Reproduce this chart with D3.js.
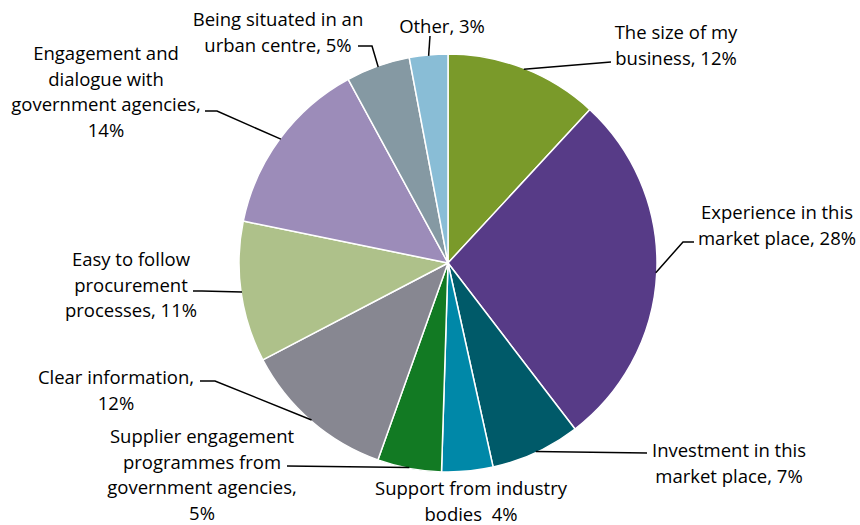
<!DOCTYPE html>
<html>
<head>
<meta charset="utf-8">
<script src="https://cdn.jsdelivr.net/npm/d3@7"></script>
<style>
  html, body { margin: 0; padding: 0; background: #fff; }
  svg { display: block; }
  text { font-family: "Open Sans", Lato, sans-serif; font-size: 18.5px; fill: #000; white-space: pre; }
</style>
</head>
<body>
<svg id="chart" width="860" height="525"></svg>
<script>
// Share of responses by factor, clockwise from 12 o'clock
const categories = [
  "The size of my business",
  "Experience in this market place",
  "Investment in this market place",
  "Support from industry bodies",
  "Supplier engagement programmes from government agencies",
  "Clear information",
  "Easy to follow procurement processes",
  "Engagement and dialogue with government agencies",
  "Being situated in an urban centre",
  "Other"
];
const values = [12, 28, 7, 4, 5, 12, 11, 14, 5, 3];
const colors = [
  "#7a9a2a", "#573b87", "#005a69", "#0088a8", "#127a23",
  "#878791", "#aec18a", "#9c8cb9", "#8599a3", "#89bdd6"
];
// Wrapped label text; {v} is replaced by the slice value
const labelLines = [
  ["The size of my", "business, {v}%"],
  ["Experience in this", "market place, {v}%"],
  ["Investment in this", "market place, {v}%"],
  ["Support from industry", "bodies  {v}%"],
  ["Supplier engagement", "programmes from", "government agencies,", "{v}%"],
  ["Clear information,", "{v}%"],
  ["Easy to follow", "procurement", "processes, {v}%"],
  ["Engagement and", "dialogue with", "government agencies,", "{v}%"],
  ["Being situated in an", "urban centre, {v}%"],
  ["Other, {v}%"]
];

// Layout: label centre x / first-line y, and leader-line bends after the arc point
const labelPos = [
  [676, 31], [777, 211], [729, 449], [471, 487], [202, 435],
  [116, 376], [131, 258], [106, 52], [278, 18], [442, 25]
];
const leaderBends = [
  [[611, 62]],
  [[683, 242], [694, 242]],
  [[647, 453]],
  null,
  [[287, 466]],
  [[215, 381], [200, 381]],
  [[202, 291], [193, 291]],
  [[217, 111], [205, 111]],
  [[372, 46], [358, 46]],
  [[430, 36]]
];

const cx = 448, cy = 263, radius = 209, lineH = 25.5;
const svg = d3.select("#chart");
const g = svg.append("g").attr("transform", `translate(${cx},${cy})`);

const pie = d3.pie().sort(null).value(d => d);
const arcs = pie(values);
const arc = d3.arc().innerRadius(0).outerRadius(radius);

g.selectAll("path.slice")
  .data(arcs)
  .join("path")
  .attr("class", "slice")
  .attr("d", arc)
  .attr("fill", (d, i) => colors[i])
  .attr("stroke", "#fff")
  .attr("stroke-width", 1.5)
  .attr("stroke-linejoin", "round");

// Leader lines start at the slice's mid-angle on the rim
const line = d3.line();
arcs.forEach((d, i) => {
  if (!leaderBends[i]) return;
  const a = (d.startAngle + d.endAngle) / 2;
  const start = [cx + (radius - 1) * Math.sin(a), cy - (radius - 1) * Math.cos(a)];
  svg.append("path")
    .attr("d", line([start, ...leaderBends[i]]))
    .attr("fill", "none")
    .attr("stroke", "#000")
    .attr("stroke-width", 1.5);
});

// Labels
arcs.forEach((d, i) => {
  const [x, y0] = labelPos[i];
  const t = svg.append("text")
    .attr("text-anchor", "middle")
    .attr("dominant-baseline", "central");
  labelLines[i].forEach((s, k) => {
    t.append("tspan")
      .attr("x", x)
      .attr("y", y0 + k * lineH)
      .text(s.replace("{v}", values[i]));
  });
});
</script>
</body>
</html>
